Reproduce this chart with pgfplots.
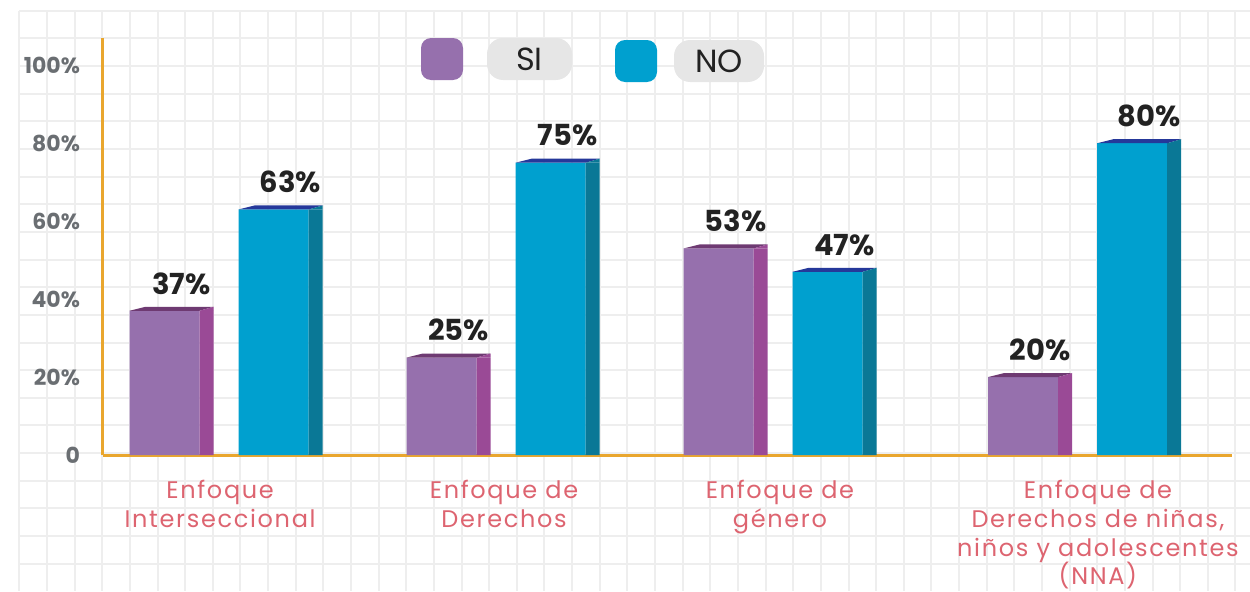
\documentclass[border=0pt]{standalone}
\usepackage{fontspec}
\setmainfont{Poppins}
\newfontfamily\catfont[LetterSpace=7]{Poppins}
\usepackage{pgfplots}
\pgfplotsset{compat=1.18}
\usepackage{pgfplotstable}

\definecolor{sifront}{HTML}{9670AD}
\definecolor{siside}{HTML}{9A4A96}
\definecolor{sitop}{HTML}{6E3A72}
\definecolor{nofront}{HTML}{00A0CF}
\definecolor{noside}{HTML}{0A7896}
\definecolor{notop}{HTML}{25389A}
\definecolor{axisorange}{HTML}{E9A62E}
\definecolor{catred}{HTML}{DD6470}
\definecolor{tickgray}{HTML}{6A6E72}
\definecolor{valtext}{HTML}{222222}
\definecolor{gridgray}{HTML}{EEEEEE}
\definecolor{legbox}{HTML}{E6E6E6}

% top face + little triangle on the side, drawn at the top of each bar
\pgfdeclareplotmark{topsi}{%
  \pgfsetfillcolor{sitop}%
  \pgfpathmoveto{\pgfpoint{-44.75pt}{0pt}}%
  \pgfpathlineto{\pgfpoint{-9.75pt}{0pt}}%
  \pgfpathlineto{\pgfpoint{-2.75pt}{2pt}}%
  \pgfpathlineto{\pgfpoint{-36.75pt}{2pt}}%
  \pgfpathclose\pgfusepath{fill}%
  \pgfsetfillcolor{siside}%
  \pgfpathmoveto{\pgfpoint{-9.75pt}{0pt}}%
  \pgfpathlineto{\pgfpoint{-2.75pt}{2pt}}%
  \pgfpathlineto{\pgfpoint{-2.75pt}{0pt}}%
  \pgfpathclose\pgfusepath{fill}%
}
\pgfdeclareplotmark{topno}{%
  \pgfsetfillcolor{notop}%
  \pgfpathmoveto{\pgfpoint{9.75pt}{0pt}}%
  \pgfpathlineto{\pgfpoint{44.75pt}{0pt}}%
  \pgfpathlineto{\pgfpoint{51.75pt}{2pt}}%
  \pgfpathlineto{\pgfpoint{17.75pt}{2pt}}%
  \pgfpathclose\pgfusepath{fill}%
  \pgfsetfillcolor{noside}%
  \pgfpathmoveto{\pgfpoint{44.75pt}{0pt}}%
  \pgfpathlineto{\pgfpoint{51.75pt}{2pt}}%
  \pgfpathlineto{\pgfpoint{51.75pt}{0pt}}%
  \pgfpathclose\pgfusepath{fill}%
}

\pgfplotstableread{
x    si  no
0    37  63
1    25  75
2    53  47
3.1  20  80
}\data

\begin{document}
\begin{tikzpicture}
% background grid
\begin{axis}[
    name=bg, at={(9.65pt,0pt)}, anchor=south west,
    width=615.35pt, height=290.15pt, scale only axis,
    xmin=19.3, xmax=1250, ymin=10.7, ymax=591, y dir=reverse,
    axis line style={draw=none}, major tick length=0pt,
    xtick={19.3,46.94,...,1250}, ytick={10.7,38.35,...,591},
    xticklabels={}, yticklabels={},
    grid=major, grid style={draw=gridgray, line width=1pt},
]
\end{axis}

\begin{axis}[
    at={(51.5pt,68pt)}, anchor=south west,
    width=564.5pt, height=208.5pt, scale only axis,
    xmin=-0.4188, xmax=3.657, ymin=0, ymax=107,
    axis x line=bottom, axis y line=left,
    axis line style={draw=axisorange, line width=1.5pt, -},
    major tick length=0pt, clip=false,
    /pgf/number format/assume math mode=true,
    ytick={0,20,40,60,80,100},
    yticklabels={0,20\%,40\%,60\%,80\%,100\%},
    yticklabel style={font=\fontsize{11}{13}\selectfont\bfseries, text=tickgray, anchor=east, xshift=-8pt},
    xtick={0.004,1.029,2.025,3.173},
    xticklabels={{Enfoque\\Interseccional},{Enfoque de\\Derechos},{Enfoque de\\género},{Enfoque de\\Derechos de niñas,\\niños y adolescentes\\(NNA)}},
    xticklabel style={align=center, font=\catfont\fontsize{12}{14.4}\selectfont, text=catred, anchor=north, yshift=-9pt},
    every node near coord/.append style={font=\fontsize{14.5}{16}\selectfont\bfseries, text=valtext, anchor=south, inner sep=0pt, yshift=8pt},
]
% SI
\addplot[ybar, bar width=35pt, bar shift=-27.25pt, fill=sifront, draw=none] table[x=x,y=si]{\data};
\addplot[ybar, bar width=7pt, bar shift=-6.25pt, fill=siside, draw=none] table[x=x,y=si]{\data};
\addplot[only marks, mark=topsi, nodes near coords={\pgfmathprintnumber{\pgfplotspointmeta}\%},
    every node near coord/.append style={xshift=-18.75pt}] table[x=x,y=si]{\data};
% NO
\addplot[ybar, bar width=35pt, bar shift=27.25pt, fill=nofront, draw=none] table[x=x,y=no]{\data};
\addplot[ybar, bar width=7pt, bar shift=48.25pt, fill=noside, draw=none] table[x=x,y=no]{\data};
\addplot[only marks, mark=topno, nodes near coords={\pgfmathprintnumber{\pgfplotspointmeta}\%},
    every node near coord/.append style={xshift=35.75pt}] table[x=x,y=no]{\data};
\end{axis}

% legend
\node[fill=sifront, rounded corners=5pt, minimum size=21pt, inner sep=0pt] at (221pt,266pt) {};
\node[fill=legbox, rounded corners=8pt, minimum width=42.5pt, minimum height=21pt, inner sep=0pt, text=valtext]
    at (264.75pt,266pt) {\fontsize{16}{18}\selectfont SI};
\node[fill=nofront, rounded corners=5pt, minimum size=21pt, inner sep=0pt] at (318pt,265pt) {};
\node[fill=legbox, rounded corners=8pt, minimum width=45pt, minimum height=21pt, inner sep=0pt, text=valtext]
    at (359.5pt,265pt) {\fontsize{16}{18}\selectfont NO};

\pgfresetboundingbox
\path[use as bounding box] (0pt,0pt) rectangle (625pt,295.5pt);
\end{tikzpicture}
\end{document}
